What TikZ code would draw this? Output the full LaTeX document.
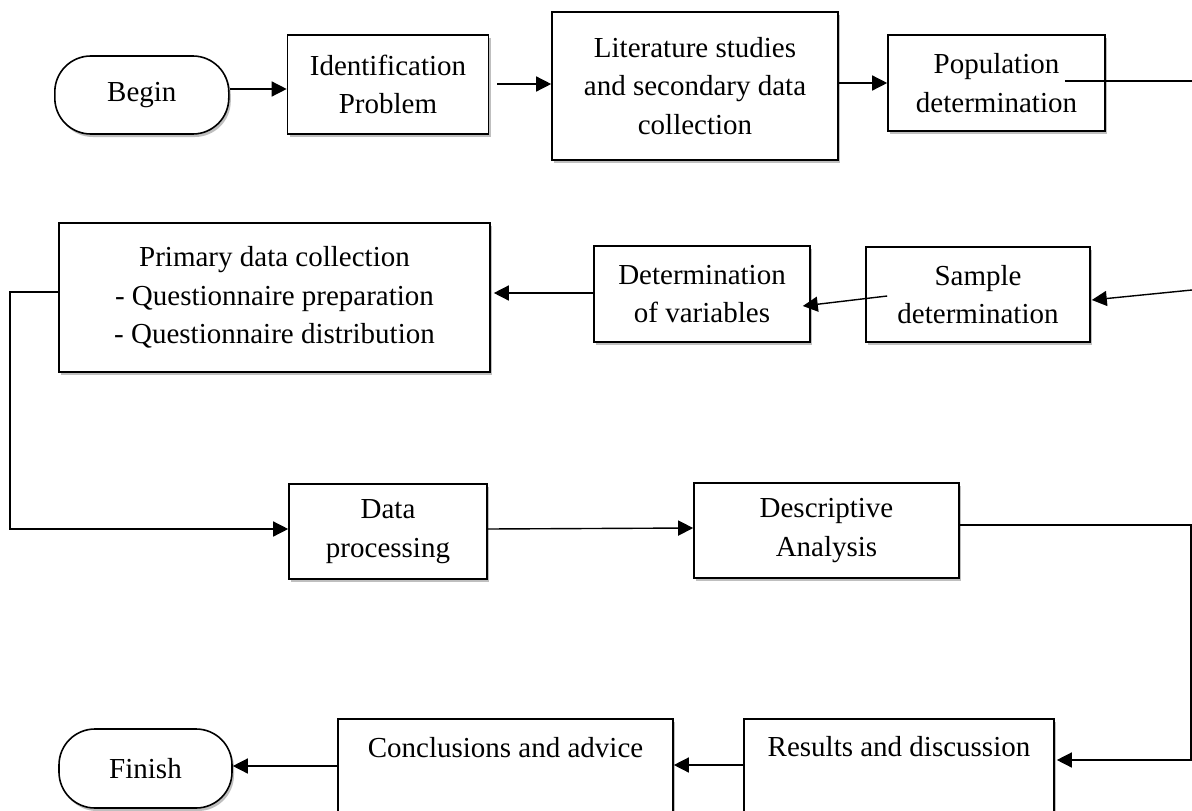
\documentclass[tikz,border=0pt]{standalone}
\usepackage{fontspec}
\setmainfont{Liberation Serif}
\usetikzlibrary{arrows.meta,shadows,calc}
\begin{document}
\begin{tikzpicture}[x=1pt,y=-1pt,
  txt/.style={font=\fontsize{29}{38.5}\selectfont, align=center, inner sep=0pt},
  box/.style={txt, draw, line width=1.6pt, fill=white, rectangle,
    drop shadow={shadow xshift=2pt, shadow yshift=-3pt, opacity=0.25, fill=black}},
  term/.style={box, rounded corners=36pt},
  conn/.style={line width=1.4pt},
  arr/.style={conn, -{Triangle[length=15pt,width=15pt]}}]
\clip (0,0) rectangle (1192,811);
\fill[white] (0,0) rectangle (1192,811);
% nodes
\node[term, minimum width=174pt, minimum height=78pt] (begin) at (141.8,95) {Begin};
\node[box, minimum width=201pt, minimum height=99pt] (ident) at (388,84.5) {Identification\\Problem};
\node[box, minimum width=286pt, minimum height=148pt] (lit) at (695,86) {Literature studies\\and secondary data\\collection};
\node[box, minimum width=217pt, minimum height=96pt] (pop) at (996.5,83) {Population\\determination};
\node[box, minimum width=224pt, minimum height=95pt] (sample) at (978,294.5) {Sample\\determination};
\node[box, minimum width=216pt, minimum height=96pt] (det) at (702,294) {Determination\\of variables};
\node[box, minimum width=431pt, minimum height=149pt] (prim) at (274.5,297.5) {Primary data collection\\- Questionnaire preparation\\- Questionnaire distribution};
\node[box, minimum width=198pt, minimum height=95pt] (data) at (388,531.5) {Data\\processing};
\node[box, minimum width=265pt, minimum height=95pt] (desc) at (826.5,530.5) {Descriptive\\Analysis};
\node[box, minimum width=310pt, minimum height=180pt, anchor=north] (results) at (899,718) {};
\node[txt] (resultstext) at (899,747) {Results and discussion};
\node[box, minimum width=335pt, minimum height=180pt, anchor=north] (concl) at (505.5,718) {};
\node[txt] (concltext) at (505.5,748) {Conclusions and advice};
\node[term, minimum width=173pt, minimum height=79pt] (finish) at (145.5,768.5) {Finish};
% free ends
\coordinate (popout) at (1192,81);
\coordinate (samplein) at (1192,290);
\coordinate (leftbus) at (10,292);
\coordinate (rightbus) at (1191,525);
% connectors
\draw[arr] (begin.east|-0,89) -- (ident.west|-0,89);
\draw[arr] ($(ident.east|-0,84)+(8,0)$) -- (lit.west|-0,84);
\draw[arr] (lit.east|-0,83) -- (pop.west|-0,83);
\draw[conn] ($(pop.east|-0,81)+(-41,0)$) -- (popout);
\draw[arr] (samplein) -- ($(sample.east|-0,300)+(1,0)$);
\draw[arr] ($(sample.west|-0,296)+(22,0)$) -- ($(det.east|-0,306)+(-8,0)$);
\draw[arr] (det.west|-0,293) -- ($(prim.east|-0,293)+(3,0)$);
\draw[arr] (prim.west|-0,292) -- (leftbus) |- (data.west|-0,529);
\draw[arr] (data.east|-0,529) -- (desc.west|-0,528);
\draw[arr] (desc.east|-0,525) -- (rightbus) |- ($(results.east|-0,760)+(2,0)$);
\draw[arr] (results.west|-0,765) -- (concl.east|-0,765);
\draw[arr] (concl.west|-0,766) -- (finish.east|-0,766);
\end{tikzpicture}
\end{document}
